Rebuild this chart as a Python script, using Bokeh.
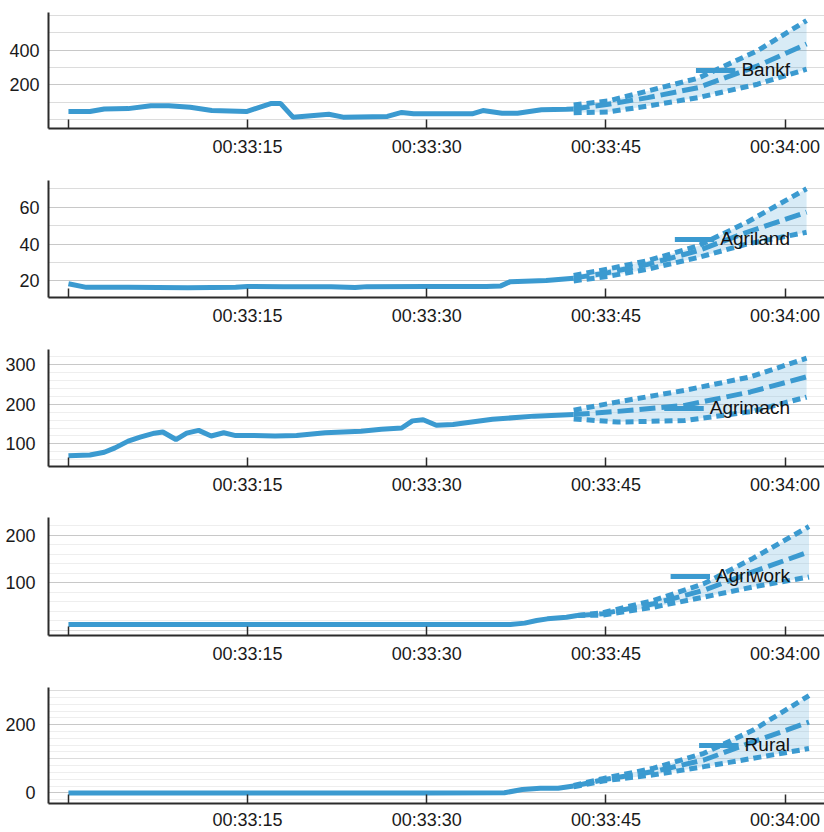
import numpy as np
from bokeh.plotting import figure
from bokeh.layouts import column
from bokeh.models import Range1d, FixedTicker, Grid
from bokeh.embed import file_html
from bokeh.resources import INLINE

# ---------------- data ----------------
names = ["Bankf", "Agriland", "Agrimach", "Agriwork", "Rural"]

# x in seconds after 00:33:00
tick_seconds = [0, 15, 30, 45, 60]
tick_labels = ["", "00:33:15", "00:33:30", "00:33:45", "00:34:00"]

# history (observed)
bankf_t = [0, 1.8, 3.0, 5.0, 6.9, 8.4, 10.2, 12.0, 14.9, 17.0, 17.75, 18.8, 21.8, 23.0,
           26.7, 27.9, 28.9, 33.8, 34.7, 36.3, 37.6, 39.6, 41.7, 42.3]
bankf_v = [47, 47, 62, 64, 81, 81, 72, 53, 47, 94, 94, 15, 32, 15,
           19, 42, 34, 34, 53, 38, 38, 57, 60, 62]

agriland_t = [0, 1.5, 5, 10, 14, 15, 18, 22, 24, 25, 30, 35, 36.2, 37.0, 40, 42.3]
agriland_v = [18.5, 16.5, 16.6, 16.3, 16.5, 17.0, 16.8, 16.9, 16.4, 16.9, 17.0, 17.0,
              17.3, 19.6, 20.2, 21.5]

agrimach_t = [0, 1.8, 3.0, 3.9, 5.0, 6.0, 7.2, 7.9, 9.0, 9.9, 10.9, 11.95, 13.0, 14.0,
              15.5, 17.3, 19.1, 21.5, 24.5, 26.2, 27.9, 28.8, 29.7, 30.8, 32.2, 35.5,
              39.0, 41.4, 42.3]
agrimach_v = [70, 72, 79, 90, 107, 117, 127, 130, 111, 127, 134, 120, 128, 121,
              121, 120, 121, 128, 132, 137, 140, 158, 161, 147, 149, 162,
              170, 173, 174]

agriwork_t = [0, 10, 20, 30, 37.0, 38.2, 39.2, 40.1, 41.7, 42.6]
agriwork_v = [12, 12, 12, 12, 12, 15, 20.5, 24, 27.5, 31]

rural_t = [0, 10, 20, 30, 36.5, 38.0, 39.5, 41.0, 42.3]
rural_v = [0, 0, 0, 0, 0.5, 10, 14, 14, 20]

# forecast (central, upper and lower bound)
bankf_ft = [42.3, 45.2, 48.5, 52.7, 57.7, 61.8]
bankf_up = [85, 108, 165, 238, 396, 569]
bankf_mid = [62, 89, 127, 184, 309, 434]
bankf_lo = [40, 45, 79, 127, 204, 290]

agriland_ft = [42.3, 45.2, 48.5, 52.7, 56.8, 61.8]
agriland_up = [23.0, 26.5, 31.0, 39.0, 51.8, 70.0]
agriland_mid = [21.5, 24.5, 29.0, 36.4, 46.4, 57.3]
agriland_lo = [20.0, 22.5, 26.4, 32.7, 40.0, 46.4]

agrimach_ft = [42.3, 46.0, 51.6, 57.1, 61.8]
agrimach_up = [185, 206, 235, 269, 316]
agrimach_mid = [174, 182, 197, 231, 269]
agrimach_lo = [163, 155, 159, 181, 218]

agriwork_ft = [42.6, 44.75, 49.0, 53.2, 57.3, 62.0]
agriwork_up = [31, 37, 62.8, 98, 151, 218]
agriwork_mid = [31, 34.7, 55.8, 84, 122.6, 165]
agriwork_lo = [31, 32, 48.6, 69.8, 91, 112]

rural_ft = [42.3, 44.75, 49.0, 53.2, 57.3, 62.0]
rural_up = [22, 42, 72.5, 116, 183.5, 285]
rural_mid = [20, 38.6, 62.6, 96.5, 149.6, 207.5]
rural_lo = [18, 35, 53, 77, 101.4, 130]

# y axes
y_ranges = [(-50, 615), (11, 74.5), (43, 338), (-11, 237), (-31, 309)]
y_major = [[200, 400], [20, 40, 60], [100, 200, 300], [100, 200], [0, 200]]
y_mid = [[0, 100, 300, 500, 600], [10, 30, 50, 70], [], [0], [100, 300]]
y_faint = [None, None, 20, 20, 20]

series = [
    (bankf_t, bankf_v, bankf_ft, bankf_up, bankf_mid, bankf_lo),
    (agriland_t, agriland_v, agriland_ft, agriland_up, agriland_mid, agriland_lo),
    (agrimach_t, agrimach_v, agrimach_ft, agrimach_up, agrimach_mid, agrimach_lo),
    (agriwork_t, agriwork_v, agriwork_ft, agriwork_up, agriwork_mid, agriwork_lo),
    (rural_t, rural_v, rural_ft, rural_up, rural_mid, rural_lo),
]

# ---------------- style ----------------
BLUE = "#3b9ad0"
FONT = "Liberation Sans"
heights = [169, 169, 169, 168, 157]
tops = [12, 11, 11, 10, 12]
bottoms = [41, 41, 41, 40, 28]
X_RANGE = (-1.67, 63.3)

figs = []
for i, name in enumerate(names):
    ht, hv, ft, fu, fm, fl = series[i]
    p = figure(width=824, height=heights[i], x_range=Range1d(*X_RANGE),
               y_range=Range1d(*y_ranges[i]), output_backend="svg",
               toolbar_location=None, min_border_left=48, min_border_right=0,
               min_border_top=tops[i], min_border_bottom=bottoms[i])
    p.outline_line_color = None
    p.background_fill_color = "white"
    p.border_fill_color = "white"

    # grids
    p.xgrid.visible = False
    lo, hi = y_ranges[i]
    minor = []
    if y_faint[i]:
        step = y_faint[i]
        minor = [v for v in np.arange(np.floor(lo / step) * step, hi + step, step)
                 if v not in y_major[i] and v not in y_mid[i]]
    p.yaxis.ticker = FixedTicker(ticks=y_major[i], minor_ticks=minor)
    p.ygrid.grid_line_color = "#c8c8c8"
    p.ygrid.grid_line_width = 1
    p.ygrid.minor_grid_line_color = "#eeeeee"
    p.ygrid.minor_grid_line_width = 1
    if y_mid[i]:
        g = Grid(dimension=1, ticker=FixedTicker(ticks=y_mid[i]),
                 grid_line_color="#dcdcdc", grid_line_width=1)
        p.add_layout(g)

    # x axis
    p.xaxis.ticker = FixedTicker(ticks=tick_seconds, minor_ticks=[])
    p.xaxis.major_label_overrides = {s: lab for s, lab in zip(tick_seconds, tick_labels)}
    p.xaxis.major_tick_in = 9
    p.xaxis.major_tick_out = 0
    p.xaxis.minor_tick_line_color = None
    p.xaxis.major_label_standoff = 8 if i < 4 else 6
    # y axis
    p.yaxis.major_tick_in = 0
    p.yaxis.major_tick_out = 0
    p.yaxis.minor_tick_line_color = None
    p.yaxis.major_label_standoff = 9
    for ax in (p.xaxis, p.yaxis):
        ax.axis_line_color = "#2b2b2b"
        ax.axis_line_width = 2
        ax.major_tick_line_color = "#2b2b2b"
        ax.major_tick_line_width = 1.5
        ax.major_label_text_font = FONT
        ax.major_label_text_font_size = "18px"
        ax.major_label_text_color = "#1a1a1a"

    # forecast band and lines
    p.varea(x=ft, y1=fl, y2=fu, fill_color=BLUE, fill_alpha=0.2)
    p.line(ft, fu, line_color=BLUE, line_width=5, line_dash="8 5")
    p.line(ft, fl, line_color=BLUE, line_width=5, line_dash="8 5")
    p.line(ft, fm, line_color=BLUE, line_width=5, line_dash="16 6")
    # history
    p.line(ht, hv, line_color=BLUE, line_width=5, legend_label=name)

    lg = p.legend[0]
    lg.location = "right"
    lg.background_fill_alpha = 0
    lg.border_line_alpha = 0
    lg.glyph_width = 40
    lg.label_standoff = 6
    lg.margin = 24
    lg.padding = 10
    lg.label_text_font = FONT
    lg.label_text_font_size = "19px"
    lg.label_text_color = "#111111"
    figs.append(p)

layout = column(*figs, spacing=0)
open("out.html", "w").write(file_html(layout, INLINE))
